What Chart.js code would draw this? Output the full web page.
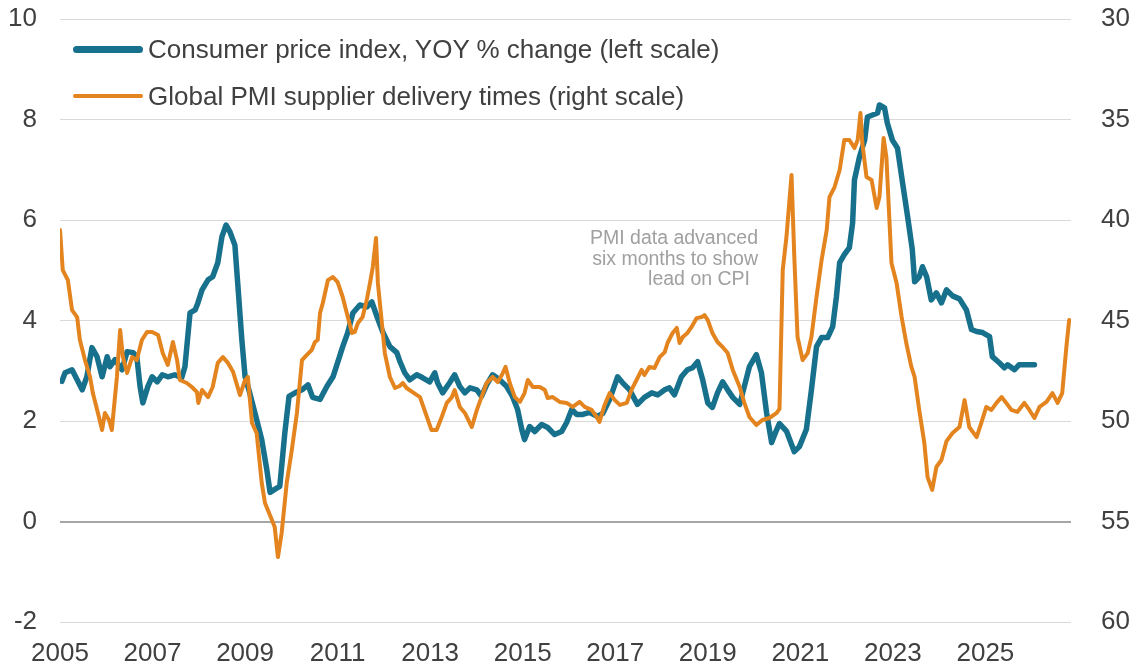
<!DOCTYPE html>
<html>
<head>
<meta charset="utf-8">
<script src="https://cdn.jsdelivr.net/npm/chart.js@4.4.0/dist/chart.umd.min.js"></script>
<style>
  body { margin: 0; background: #fff; font-family: "Liberation Sans", Arial, sans-serif; }
  #wrap { position: relative; width: 1136px; height: 666px; }
  .leg { position: absolute; left: 73px; height: 32px; display: flex; align-items: center; font-size: 26px; color: #404040; white-space: nowrap; }
  .leg .swatch { width: 70px; border-radius: 4px; margin-right: 5px; }
  .note { position: absolute; right: 378px; top: 227px; font-size: 19.5px; line-height: 20.5px; color: #a0a0a0; text-align: right; }
</style>
</head>
<body>
<div id="wrap">
  <canvas id="chart" width="1136" height="666"></canvas>
  <div class="leg" style="top:33px"><span class="swatch" style="height:7px;background:#17708c"></span>Consumer price index, YOY % change (left scale)</div>
  <div class="leg" style="top:80px"><span class="swatch" style="height:4.5px;background:#e3841f"></span>Global PMI supplier delivery times (right scale)</div>
  <div class="note">PMI data advanced<br>six months to show<br><span style="padding-right:8px">lead on CPI</span></div>
</div>
<script>
// CPI, YOY % change (left scale)
const cpiYears = [2005.04,2005.11,2005.26,2005.37,2005.48,2005.58,2005.69,2005.80,2005.91,2006.02,2006.08,2006.19,2006.34,2006.45,2006.58,2006.66,2006.73,2006.79,2006.90,2006.99,
  2007.10,2007.21,2007.33,2007.48,2007.63,2007.70,2007.81,2007.92,2007.98,2008.07,2008.20,2008.30,2008.41,2008.50,2008.59,2008.67,2008.78,2008.84,2008.93,
  2009.00,2009.10,2009.21,2009.36,2009.47,2009.54,2009.64,2009.75,2009.86,2009.95,2010.08,2010.23,2010.36,2010.46,2010.62,2010.77,2010.90,
  2011.00,2011.11,2011.22,2011.33,2011.48,2011.63,2011.74,2011.85,2011.98,2012.13,2012.28,2012.34,2012.45,2012.56,2012.71,2012.84,2012.99,
  2013.10,2013.16,2013.27,2013.42,2013.53,2013.64,2013.75,2013.86,2014.01,2014.11,2014.22,2014.35,2014.50,2014.65,2014.78,2014.89,2014.98,
  2015.04,2015.15,2015.26,2015.41,2015.54,2015.69,2015.84,2015.95,2016.06,2016.17,2016.30,2016.45,2016.62,2016.73,2016.88,
  2017.05,2017.16,2017.31,2017.48,2017.63,2017.79,2017.92,2018.07,2018.17,2018.28,2018.43,2018.56,2018.67,2018.78,2018.89,
  2019.00,2019.10,2019.21,2019.32,2019.43,2019.54,2019.69,2019.79,2019.90,2020.05,2020.16,2020.27,2020.38,2020.49,2020.55,2020.70,2020.87,2020.98,
  2021.13,2021.24,2021.35,2021.46,2021.59,2021.70,2021.78,2021.85,2021.95,2022.06,2022.13,2022.17,2022.28,2022.39,2022.45,2022.56,2022.67,2022.71,2022.82,2022.88,2022.99,
  2023.10,2023.21,2023.32,2023.42,2023.47,2023.57,2023.64,2023.73,2023.83,2023.94,2024.05,2024.16,2024.29,2024.44,2024.59,2024.70,2024.81,2024.94,
  2025.09,2025.15,2025.30,2025.41,2025.48,2025.63,2025.73,2025.89,2026.06]
const cpiValues = [2.79,2.96,3.02,2.82,2.62,2.88,3.46,3.28,2.88,3.28,3.08,3.22,3.02,3.38,3.36,3.28,2.69,2.36,2.69,2.88,
  2.78,2.92,2.88,2.92,2.86,3.08,4.15,4.21,4.35,4.61,4.81,4.87,5.15,5.67,5.90,5.77,5.50,4.75,3.62,
  2.88,2.56,2.17,1.63,1.03,0.58,0.64,0.70,1.77,2.49,2.56,2.62,2.72,2.47,2.43,2.69,2.88,
  3.16,3.48,3.76,4.15,4.31,4.27,4.37,4.08,3.76,3.48,3.36,3.20,2.96,2.82,2.92,2.86,2.78,
  2.96,2.76,2.56,2.76,2.92,2.69,2.56,2.66,2.62,2.49,2.72,2.92,2.82,2.69,2.49,2.23,1.83,
  1.63,1.89,1.79,1.93,1.87,1.73,1.79,1.97,2.23,2.13,2.13,2.17,2.09,2.15,2.43,
  2.88,2.76,2.62,2.33,2.47,2.56,2.52,2.62,2.66,2.52,2.88,3.02,3.06,3.18,2.82,
  2.36,2.27,2.56,2.78,2.62,2.47,2.33,2.69,3.08,3.32,2.96,2.17,1.57,1.83,1.95,1.80,1.39,1.49,
  1.83,2.62,3.48,3.66,3.66,3.88,4.47,5.15,5.31,5.45,5.94,6.80,7.26,7.59,8.05,8.09,8.13,8.29,8.23,7.93,7.59,
  7.43,6.74,6.06,5.41,4.77,4.87,5.07,4.87,4.41,4.55,4.35,4.61,4.49,4.43,4.21,3.82,3.78,3.76,
  3.68,3.28,3.16,3.06,3.12,3.02,3.12,3.12,3.12]

// Global PMI supplier delivery times, advanced six months (right scale, inverted)
const pmiYears = [2005.00,2005.06,2005.17,2005.26,2005.37,2005.43,2005.54,2005.65,2005.71,2005.82,2005.91,2005.97,2006.06,2006.12,2006.23,2006.30,2006.36,2006.45,2006.56,2006.66,2006.77,2006.88,2006.99,
  2007.12,2007.22,2007.33,2007.44,2007.53,2007.59,2007.74,2007.85,2007.96,2007.99,2008.07,2008.20,2008.30,2008.41,2008.52,2008.63,2008.74,2008.89,
  2009.00,2009.06,2009.15,2009.25,2009.36,2009.43,2009.58,2009.64,2009.71,2009.79,2009.90,2010.01,2010.12,2010.23,2010.33,2010.44,2010.51,2010.57,2010.62,2010.68,2010.79,2010.90,
  2011.00,2011.11,2011.22,2011.31,2011.37,2011.44,2011.54,2011.63,2011.70,2011.76,2011.83,2011.87,2011.95,2012.02,2012.13,2012.24,2012.34,2012.41,2012.49,2012.62,2012.78,2012.93,
  2013.03,2013.14,2013.25,2013.36,2013.47,2013.53,2013.64,2013.75,2013.90,2014.01,2014.11,2014.22,2014.35,2014.46,2014.55,2014.63,2014.72,2014.83,2014.94,
  2015.04,2015.11,2015.22,2015.37,2015.48,2015.54,2015.65,2015.80,2015.95,2016.08,2016.23,2016.34,2016.49,2016.60,2016.66,2016.77,2016.88,2016.99,
  2017.10,2017.25,2017.35,2017.46,2017.57,2017.63,2017.74,2017.85,2017.96,2018.07,2018.13,2018.24,2018.33,2018.39,2018.46,2018.56,2018.65,2018.76,2018.87,2018.93,
  2019.00,2019.10,2019.21,2019.32,2019.43,2019.54,2019.69,2019.79,2019.90,2020.05,2020.18,2020.33,2020.49,2020.55,2020.62,2020.70,2020.81,2020.87,2020.94,
  2021.05,2021.16,2021.24,2021.35,2021.46,2021.57,2021.63,2021.74,2021.85,2021.95,2022.06,2022.17,2022.24,2022.30,2022.34,2022.43,2022.54,2022.65,2022.71,2022.80,2022.86,2022.97,
  2023.08,2023.19,2023.29,2023.40,2023.47,2023.57,2023.68,2023.75,2023.85,2023.94,2024.05,2024.16,2024.29,2024.44,2024.55,2024.65,2024.81,2024.91,
  2025.02,2025.13,2025.24,2025.35,2025.45,2025.56,2025.69,2025.84,2025.95,2026.06,2026.17,2026.32,2026.45,2026.56,2026.66,2026.75,2026.81]
const pmiValues = [40.5,42.49,42.99,44.48,44.83,45.97,46.97,47.81,48.61,49.60,50.45,49.60,49.95,50.45,47.81,45.47,46.82,47.61,46.82,46.97,45.97,45.57,45.57,
  45.72,46.62,47.21,46.07,46.97,47.96,48.11,48.31,48.56,49.10,48.46,48.81,48.31,47.11,46.82,47.11,47.55,48.71,
  47.96,47.81,50.10,50.60,53.08,54.08,54.93,55.27,56.77,55.57,53.08,51.44,49.60,46.97,46.72,46.47,46.07,45.97,44.63,44.13,42.99,42.84,
  43.09,43.83,44.83,45.62,45.57,45.12,44.83,43.98,43.13,42.34,40.90,43.13,44.98,46.62,47.81,48.36,48.26,48.11,48.36,48.56,48.81,49.80,
  50.45,50.45,49.80,49.10,48.81,48.46,49.30,49.60,50.30,49.45,48.81,48.11,47.81,48.06,47.71,47.31,48.11,48.81,49.05,
  48.61,47.96,48.31,48.31,48.46,48.86,48.81,49.05,49.10,49.30,49.05,49.30,49.45,49.80,50.05,49.20,48.61,48.96,
  49.20,49.10,48.46,47.96,47.46,47.71,47.31,47.36,46.82,46.57,46.12,45.62,45.37,46.12,45.82,45.62,45.32,44.88,44.83,44.73,
  44.98,45.62,46.07,46.32,46.62,47.46,48.31,49.10,49.80,50.20,49.95,49.85,49.60,49.40,42.49,40.85,37.76,41.84,45.82,
  46.97,46.62,45.82,43.83,41.99,40.50,38.86,38.36,37.51,36.02,36.02,36.42,36.02,34.68,36.17,37.86,38.01,39.40,38.86,35.92,36.87,42.14,
  43.13,44.83,46.12,47.31,47.81,49.45,51.09,52.79,53.43,52.29,51.94,51.00,50.60,50.30,48.96,50.30,50.80,50.10,
  49.30,49.45,49.10,48.81,49.10,49.45,49.55,49.10,49.45,49.85,49.30,49.05,48.61,49.10,48.61,46.32,44.98]

const xTickYears = [2005,2007,2009,2011,2013,2015,2017,2019,2021,2023,2025]
const leftTicks = [-2,0,2,4,6,8,10]
const rightTicks = [30,35,40,45,50,55,60]

const tickFont = { family: 'Liberation Sans', size: 26 }
const tickColor = '#404040'
const clear = 'rgba(0,0,0,0)'

const ctx = document.getElementById('chart').getContext('2d')
const myChart = new Chart(ctx, {
    type: 'line',
    data: {
        datasets: [{
            label: 'Consumer price index, YOY % change (left scale)',
            data: cpiYears.map((x, i) => ({ x: x, y: cpiValues[i] })),
            yAxisID: 'y',
            borderColor: '#17708c',
            borderWidth: 5.5,
            order: 1
        }, {
            label: 'Global PMI supplier delivery times (right scale)',
            data: pmiYears.map((x, i) => ({ x: x, y: pmiValues[i] })),
            yAxisID: 'y2',
            borderColor: '#e3841f',
            borderWidth: 4,
            order: 0
        }]
    },
    options: {
        responsive: false,
        animation: false,
        layout: { padding: { top: 19, left: 0, right: 0, bottom: 0 } },
        elements: {
            point: { radius: 0, hoverRadius: 0 },
            line: { tension: 0, borderJoinStyle: 'round', borderCapStyle: 'round' }
        },
        plugins: {
            legend: { display: false },
            tooltip: { enabled: false }
        },
        scales: {
            x: {
                type: 'linear',
                min: 2005,
                max: 2026.85,
                grid: { display: false },
                border: { display: false },
                afterBuildTicks: axis => { axis.ticks = xTickYears.map(v => ({ value: v })) },
                afterFit: axis => { axis.height = 44 },
                ticks: {
                    font: tickFont,
                    color: tickColor,
                    padding: 8,
                    maxRotation: 0,
                    autoSkip: false,
                    callback: value => String(value)
                }
            },
            y: {
                position: 'left',
                min: -2,
                max: 10,
                border: { display: false },
                afterBuildTicks: axis => { axis.ticks = leftTicks.map(v => ({ value: v })) },
                afterFit: axis => { axis.width = 60 },
                grid: {
                    tickLength: 21,
                    tickColor: clear,
                    color: c => c.tick && c.tick.value === 0 ? '#a6a6a6' : '#d9d9d9',
                    lineWidth: c => c.tick && c.tick.value === 0 ? 2 : 1
                },
                ticks: { font: tickFont, color: tickColor, padding: 2 }
            },
            y2: {
                position: 'right',
                min: 30,
                max: 60,
                reverse: true,
                border: { display: false },
                grid: { drawOnChartArea: false, tickLength: 28, tickColor: clear, color: clear },
                afterBuildTicks: axis => { axis.ticks = rightTicks.map(v => ({ value: v })) },
                afterFit: axis => { axis.width = 65 },
                ticks: { font: tickFont, color: tickColor, padding: 2 }
            }
        }
    }
});
</script>
</body>
</html>
